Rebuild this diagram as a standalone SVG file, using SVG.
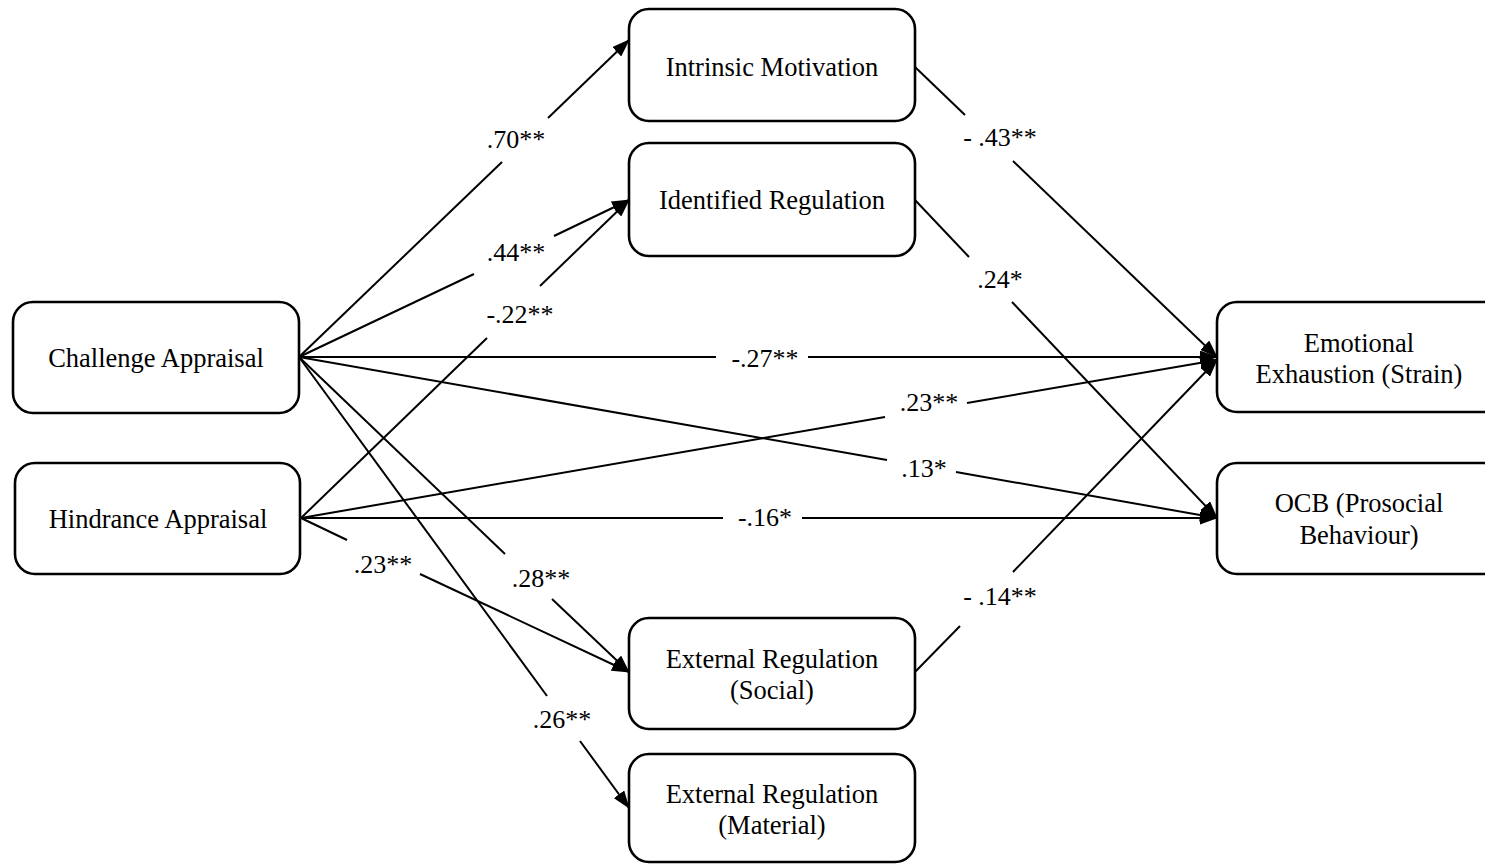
<svg xmlns="http://www.w3.org/2000/svg" width="1485" height="864" viewBox="0 0 1485 864">
<style>
.box{fill:#fff;stroke:#000;stroke-width:2.6}
.t{font-family:"Liberation Serif","Times New Roman",serif;font-size:26.5px;fill:#000;text-anchor:middle}
.l{font-family:"Liberation Serif","Times New Roman",serif;font-size:26px;fill:#000;text-anchor:middle}
.c{stroke:#000;stroke-width:2;fill:none}
.a{marker-end:url(#ah)}
</style>
<defs>
<marker id="ah" markerUnits="userSpaceOnUse" markerWidth="18" markerHeight="13" refX="17" refY="6.5" orient="auto">
<path d="M0,0 L18,6.5 L0,13 z" fill="#000"/>
</marker>
</defs>
<rect width="1485" height="864" fill="#fff"/>
<g id="connectors">
<!-- Challenge -> Intrinsic -->
<line class="c" x1="299" y1="357" x2="502" y2="162"/>
<line class="c a" x1="548" y1="118" x2="629" y2="40"/>
<!-- Challenge -> Identified -->
<line class="c" x1="299" y1="357" x2="474" y2="274"/>
<line class="c a" x1="554" y1="236" x2="629" y2="200"/>
<!-- Hindrance -> Identified -->
<line class="c" x1="301" y1="518" x2="487" y2="338"/>
<line class="c a" x1="540" y1="286" x2="629" y2="200"/>
<!-- Challenge -> Emotional -->
<line class="c" x1="299" y1="357" x2="716" y2="357"/>
<line class="c a" x1="808" y1="357" x2="1217" y2="357"/>
<!-- Hindrance -> Emotional -->
<line class="c" x1="301" y1="518" x2="885" y2="417"/>
<line class="c a" x1="967" y1="403" x2="1217" y2="360"/>
<!-- Challenge -> OCB -->
<line class="c" x1="299" y1="357" x2="887" y2="460"/>
<line class="c a" x1="956" y1="472" x2="1217" y2="518"/>
<!-- Hindrance -> OCB -->
<line class="c" x1="301" y1="518" x2="723" y2="518"/>
<line class="c a" x1="802" y1="518" x2="1217" y2="518"/>
<!-- Hindrance -> External Social -->
<line class="c" x1="301" y1="518" x2="347" y2="540"/>
<line class="c a" x1="420" y1="574" x2="629" y2="672"/>
<!-- Challenge -> External Social -->
<line class="c" x1="299" y1="357" x2="505" y2="554"/>
<line class="c a" x1="552" y1="599" x2="629" y2="672"/>
<!-- Challenge -> External Material -->
<line class="c" x1="299" y1="357" x2="547" y2="696"/>
<line class="c a" x1="580" y1="741" x2="629" y2="808"/>
<!-- Intrinsic -> Emotional -->
<line class="c" x1="915" y1="67" x2="965" y2="115"/>
<line class="c a" x1="1013" y1="161" x2="1217" y2="357"/>
<!-- Identified -> OCB -->
<line class="c" x1="915" y1="200" x2="969" y2="257"/>
<line class="c a" x1="1012" y1="302" x2="1217" y2="518"/>
<!-- External Social -> Emotional -->
<line class="c" x1="915" y1="672" x2="960" y2="626"/>
<line class="c a" x1="1013" y1="572" x2="1217" y2="360"/>
</g>
<g id="labels">
<text class="l" x="516" y="148">.70**</text>
<text class="l" x="516" y="261">.44**</text>
<text class="l" x="520" y="323">-.22**</text>
<text class="l" x="765" y="367">-.27**</text>
<text class="l" x="929" y="411">.23**</text>
<text class="l" x="924" y="477">.13*</text>
<text class="l" x="765" y="526">-.16*</text>
<text class="l" x="383" y="573">.23**</text>
<text class="l" x="541" y="587">.28**</text>
<text class="l" x="562" y="728">.26**</text>
<text class="l" x="1000" y="146">- .43**</text>
<text class="l" x="1000" y="288">.24*</text>
<text class="l" x="1000" y="605">- .14**</text>
</g>
<g id="challenge">
<rect class="box" x="13" y="302" width="286" height="111" rx="20"/>
<text class="t" x="156" y="367">Challenge Appraisal</text>
</g>
<g id="hindrance">
<rect class="box" x="15" y="463" width="285" height="111" rx="20"/>
<text class="t" x="158" y="528">Hindrance Appraisal</text>
</g>
<g id="intrinsic">
<rect class="box" x="629" y="9" width="286" height="112" rx="20"/>
<text class="t" x="772" y="76">Intrinsic Motivation</text>
</g>
<g id="identified">
<rect class="box" x="629" y="143" width="286" height="113" rx="20"/>
<text class="t" x="772" y="209">Identified Regulation</text>
</g>
<g id="external-social">
<rect class="box" x="629" y="618" width="286" height="111" rx="20"/>
<text class="t" x="772" y="668">External Regulation</text>
<text class="t" x="772" y="699">(Social)</text>
</g>
<g id="external-material">
<rect class="box" x="629" y="754" width="286" height="108" rx="20"/>
<text class="t" x="772" y="803">External Regulation</text>
<text class="t" x="772" y="834">(Material)</text>
</g>
<g id="emotional">
<rect class="box" x="1217" y="302" width="300" height="110" rx="20"/>
<text class="t" x="1359" y="352">Emotional</text>
<text class="t" x="1359" y="383">Exhaustion (Strain)</text>
</g>
<g id="ocb">
<rect class="box" x="1217" y="463" width="300" height="111" rx="20"/>
<text class="t" x="1359" y="512">OCB (Prosocial</text>
<text class="t" x="1359" y="544">Behaviour)</text>
</g>
</svg>
